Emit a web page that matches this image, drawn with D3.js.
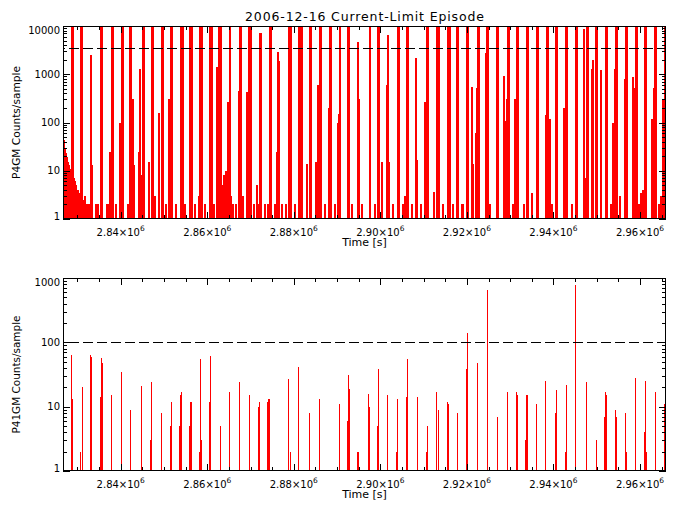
<!DOCTYPE html>
<html><head><meta charset="utf-8">
<script src="https://cdn.jsdelivr.net/npm/d3@7"></script>
<style>body{margin:0;background:#fff}svg{display:block}text{font-family:"DejaVu Sans",sans-serif;fill:#000}</style>
</head><body><svg id="c" width="677" height="511"></svg>
<script>
const title = "2006-12-16 Current-Limit Episode";
const xLabel = "Time [s]";
const topYLabel = "P4GM Counts/sample";
const botYLabel = "P41GM Counts/sample";
const xMajorTicks = [2.84e6, 2.86e6, 2.88e6, 2.90e6, 2.92e6, 2.94e6, 2.96e6];
const xTickLabels = ["2.84", "2.86", "2.88", "2.90", "2.92", "2.94", "2.96"];
const xTimeRange = [2826670, 2966010];
const topYTicks = [1, 10, 100, 1000, 10000];
const botYTicks = [1, 10, 100, 1000];
const topThreshold = 3500;
const botThreshold = 100;
const F = 20000; // saturated sample (above plot range)

const topTimeKs = [2826.79,2827.02,2827.25,2827.48,2827.71,2827.94,2828.17,2828.40,2828.52,2828.75,2828.98,2829.21,2829.44,2829.67,2829.91,2830.14,2830.37,2830.60,2830.83,2831.06,2831.29,2831.52,2831.75,2831.99,2832.22,2832.45,2833.14,2833.37,2834.07,2834.53,2835.22,2835.45,2835.68,2836.61,2836.84,2837.53,2837.99,2838.22,2838.69,2839.84,2840.19,2840.42,2841.69,2842.15,2842.38,2842.62,2842.85,2844.23,2844.46,2844.69,2845.04,2845.27,2846.54,2847.12,2847.35,2847.70,2848.85,2849.32,2849.55,2850.47,2851.16,2851.51,2851.74,2852.78,2853.71,2853.94,2854.17,2854.86,2855.90,2856.13,2856.36,2857.17,2857.87,2858.21,2858.44,2858.68,2859.48,2860.41,2860.64,2860.87,2861.56,2862.03,2862.26,2862.60,2862.83,2863.07,2863.41,2863.64,2863.87,2864.11,2864.34,2864.57,2864.80,2865.03,2865.26,2865.49,2865.72,2865.95,2866.42,2867.11,2867.46,2867.69,2868.26,2868.96,2869.54,2869.77,2870.00,2870.58,2871.27,2871.73,2872.08,2872.31,2873.12,2874.04,2874.39,2874.62,2875.43,2876.01,2876.24,2876.58,2877.05,2877.97,2878.78,2879.01,2879.24,2880.05,2881.20,2881.44,2881.67,2882.94,2883.63,2883.86,2885.13,2885.48,2885.83,2886.06,2887.21,2887.91,2888.14,2888.37,2889.52,2890.10,2890.33,2890.56,2892.41,2892.64,2893.45,2894.72,2894.95,2895.76,2897.38,2897.61,2898.54,2899.35,2899.58,2900.38,2901.42,2901.66,2901.89,2902.70,2903.97,2904.20,2905.01,2905.47,2906.05,2906.28,2907.09,2908.24,2908.47,2909.17,2910.09,2910.32,2910.67,2910.90,2912.17,2913.09,2913.33,2914.25,2915.41,2915.64,2915.87,2916.56,2917.60,2917.83,2918.64,2919.10,2919.91,2920.14,2920.95,2921.18,2921.41,2921.88,2922.11,2922.45,2922.68,2924.19,2924.53,2924.76,2925.34,2926.84,2927.08,2928.35,2928.81,2929.04,2929.27,2929.50,2930.43,2930.89,2931.47,2931.70,2932.97,2933.78,2934.01,2934.82,2936.09,2936.32,2938.05,2938.40,2938.63,2938.98,2939.44,2940.48,2940.71,2942.21,2942.44,2942.79,2943.02,2944.06,2945.10,2945.33,2947.06,2947.29,2947.53,2947.76,2948.91,2949.14,2949.72,2949.95,2950.76,2951.92,2952.15,2953.07,2953.76,2954.00,2954.34,2954.57,2955.38,2956.31,2956.65,2956.88,2958.16,2958.62,2958.96,2959.19,2959.77,2960.23,2960.47,2961.04,2961.27,2962.55,2963.01,2963.35,2963.59,2964.39,2964.63,2965.09,2965.67,2965.90];
const topCounts = [43,30,23,19,15,13,11,9,F,F,F,7,6,5,4,3.5,3,F,F,F,2.5,2,3,2,2,2,2500,13,2,2,F,F,F,2,2,25,F,F,2,97,F,F,2,F,F,300,13,25,1300,8,F,F,15,F,F,3,160,F,F,2,300,F,F,2,F,F,F,2,F,F,F,2,3,F,F,F,2,F,F,F,2,1400,6,F,F,F,3,5,8,10,6,270,4,F,F,3,2,2,2,440,F,F,3,430,F,F,F,2,5,2,7000,7000,2,2,F,F,2,25,2900,1900,2,2,F,F,F,2,F,F,F,14,F,F,15,600,F,F,2,200,F,F,2,100,150,F,F,F,2,4700,300,2,F,F,2,F,F,15,600,6500,15,2,F,F,2,3,F,F,2,2150,17,2,23,270,F,F,3.7,F,F,2,F,F,F,2,F,F,2,2,F,F,540,130,14,60,510,F,F,2700,F,F,2,F,F,900,110,300,F,F,2,300,F,F,2,F,F,3.5,F,F,140,F,F,120,2,F,F,200,190,F,F,2,F,F,8700,7,F,F,1300,2000,F,F,1200,F,F,2,100,1300,F,F,3,780,F,F,890,520,F,F,2,3.5,4,F,F,120,520,F,F,2,3,300,F,F];

const botTimeKs = [2828.59,2828.82,2830.67,2831.13,2833.14,2833.37,2835.29,2835.52,2835.75,2837.83,2837.99,2840.14,2842.22,2842.38,2844.76,2846.84,2847.07,2849.39,2851.47,2851.70,2853.55,2853.71,2853.94,2855.86,2856.09,2856.32,2858.10,2858.33,2858.56,2860.41,2860.64,2862.95,2865.26,2867.34,2867.57,2869.88,2871.96,2872.19,2874.04,2874.27,2874.50,2878.73,2878.89,2879.13,2881.04,2881.20,2883.59,2885.83,2890.45,2892.37,2892.60,2892.83,2894.72,2894.95,2897.15,2897.38,2899.23,2899.46,2901.77,2903.85,2904.08,2906.16,2906.39,2908.70,2910.78,2911.01,2913.09,2913.33,2915.41,2915.64,2917.72,2919.80,2920.03,2922.34,2924.65,2927.03,2929.27,2931.35,2931.58,2933.50,2933.73,2933.96,2935.97,2938.28,2940.43,2940.66,2942.74,2942.97,2945.05,2945.21,2947.53,2949.84,2951.75,2951.99,2952.22,2954.30,2954.53,2956.61,2956.84,2958.92,2961.00,2961.23,2961.46,2963.54,2965.62,2965.85];
const botCounts = [63,13,2,20,63,60,14,58,48,15,2,34,9,9,21,3,24,8,5,12,5,15,17,5,12,12,2,56,3,12,61,5,17,24,24,15,10,12,12,13,13,3,27,2,5,42,8,13,11,6,31,19,2,2,16,10,5,39,15,2,13,14,56,14,2,5,17,9,12,11,8,39,141,48,650,7,17,17,15,3,15,15,11,25,8,18,2,22,15,780,24,3,7,17,15,9,7,8,2,28,4,25,2,17,11,273];

const svg = d3.select("#c");
svg.append("rect").attr("width", 677).attr("height", 511).attr("fill", "#fff");
const L = 63, R = 666;
const x = d3.scaleLinear().domain(xTimeRange).range([L, R]);

svg.append("text").attr("x", (L + R) / 2).attr("y", 20.5).attr("text-anchor", "middle")
  .attr("font-size", 12.5).attr("textLength", 239).attr("lengthAdjust", "spacing").text(title);

const panels = [
  {top: 26, bottom: 219, times: topTimeKs, counts: topCounts, dom: [1, 10000], ticks: topYTicks, thr: topThreshold, label: topYLabel, len: 113, barPx: 2},
  {top: 278, bottom: 471, times: botTimeKs, counts: botCounts, dom: [1, 1000], ticks: botYTicks, thr: botThreshold, label: botYLabel, len: 118, barPx: 1}
];

panels.forEach((p, i) => {
  const y = d3.scaleLog().domain(p.dom).range([p.bottom, p.top]).clamp(true);
  const g = svg.append("g");
  g.append("clipPath").attr("id", "clip" + i).append("rect")
    .attr("x", L).attr("y", p.top).attr("width", R - L).attr("height", p.bottom - p.top);
  const bars = g.append("g").attr("clip-path", `url(#clip${i})`);
  bars.selectAll("rect").data(d3.range(p.times.length)).join("rect")
    .attr("x", j => Math.floor(x(p.times[j] * 1000)))
    .attr("width", p.barPx)
    .attr("y", j => y(p.counts[j]))
    .attr("height", j => y(1) - y(p.counts[j]))
    .attr("fill", "#ff0000").attr("shape-rendering", "crispEdges");

  // threshold dashed line
  g.append("line").attr("x1", L).attr("x2", R)
    .attr("y1", Math.round(y(p.thr)) + 0.5).attr("y2", Math.round(y(p.thr)) + 0.5)
    .attr("stroke", "#000").attr("stroke-width", 1).attr("stroke-dasharray", "10,4")
    .attr("stroke-dashoffset", -6);

  const ax = g.append("g").attr("stroke", "#000").attr("stroke-width", 1).attr("shape-rendering", "crispEdges");
  ax.append("rect").attr("x", L + 0.5).attr("y", p.top + 0.5).attr("width", R - L - 1).attr("height", p.bottom - p.top - 1).attr("fill", "none");

  const yt = [];
  for (let k = 0; k < p.ticks.length; k++) {
    yt.push({v: p.ticks[k], len: 7});
    if (k < p.ticks.length - 1) for (let m = 2; m <= 9; m++) yt.push({v: p.ticks[k] * m, len: 4});
  }
  yt.forEach(t => {
    const yy = Math.round(y(t.v)) + 0.5;
    ax.append("line").attr("x1", L).attr("x2", L + t.len).attr("y1", yy).attr("y2", yy);
    ax.append("line").attr("x1", R).attr("x2", R - t.len).attr("y1", yy).attr("y2", yy);
  });
  const minor = d3.range(2830000, xTimeRange[1], 5000).filter(v => !xMajorTicks.includes(v));
  const xt = xMajorTicks.map(v => ({v, len: 7})).concat(minor.map(v => ({v, len: 4})));
  xt.forEach(t => {
    const xx = Math.round(x(t.v)) + 0.5;
    ax.append("line").attr("x1", xx).attr("x2", xx).attr("y1", p.bottom).attr("y2", p.bottom - t.len);
    ax.append("line").attr("x1", xx).attr("x2", xx).attr("y1", p.top).attr("y2", p.top + t.len);
  });

  p.ticks.forEach(v => {
    const base = Math.min(Math.max(y(v) + 3.7, p.top + 7.5), p.bottom + 1);
    g.append("text").attr("x", 60).attr("y", base).attr("text-anchor", "end")
      .attr("font-size", 10).text(d3.format("d")(v));
  });
  xMajorTicks.forEach((v, k) => {
    const t = g.append("text").attr("x", x(v)).attr("y", p.bottom + 16.5).attr("text-anchor", "middle").attr("font-size", 10);
    t.append("tspan").text(xTickLabels[k] + "×10");
    t.append("tspan").attr("dy", -5).attr("font-size", 7.5).text("6");
  });
  g.append("text").attr("x", (L + R) / 2).attr("y", p.bottom + 27).attr("text-anchor", "middle")
    .attr("font-size", 11).text(xLabel);
  g.append("text").attr("transform", `translate(20,${(p.top + p.bottom) / 2}) rotate(-90)`)
    .attr("text-anchor", "middle").attr("font-size", 10.6)
    .attr("textLength", p.len).attr("lengthAdjust", "spacingAndGlyphs").text(p.label);
});
</script></body></html>
